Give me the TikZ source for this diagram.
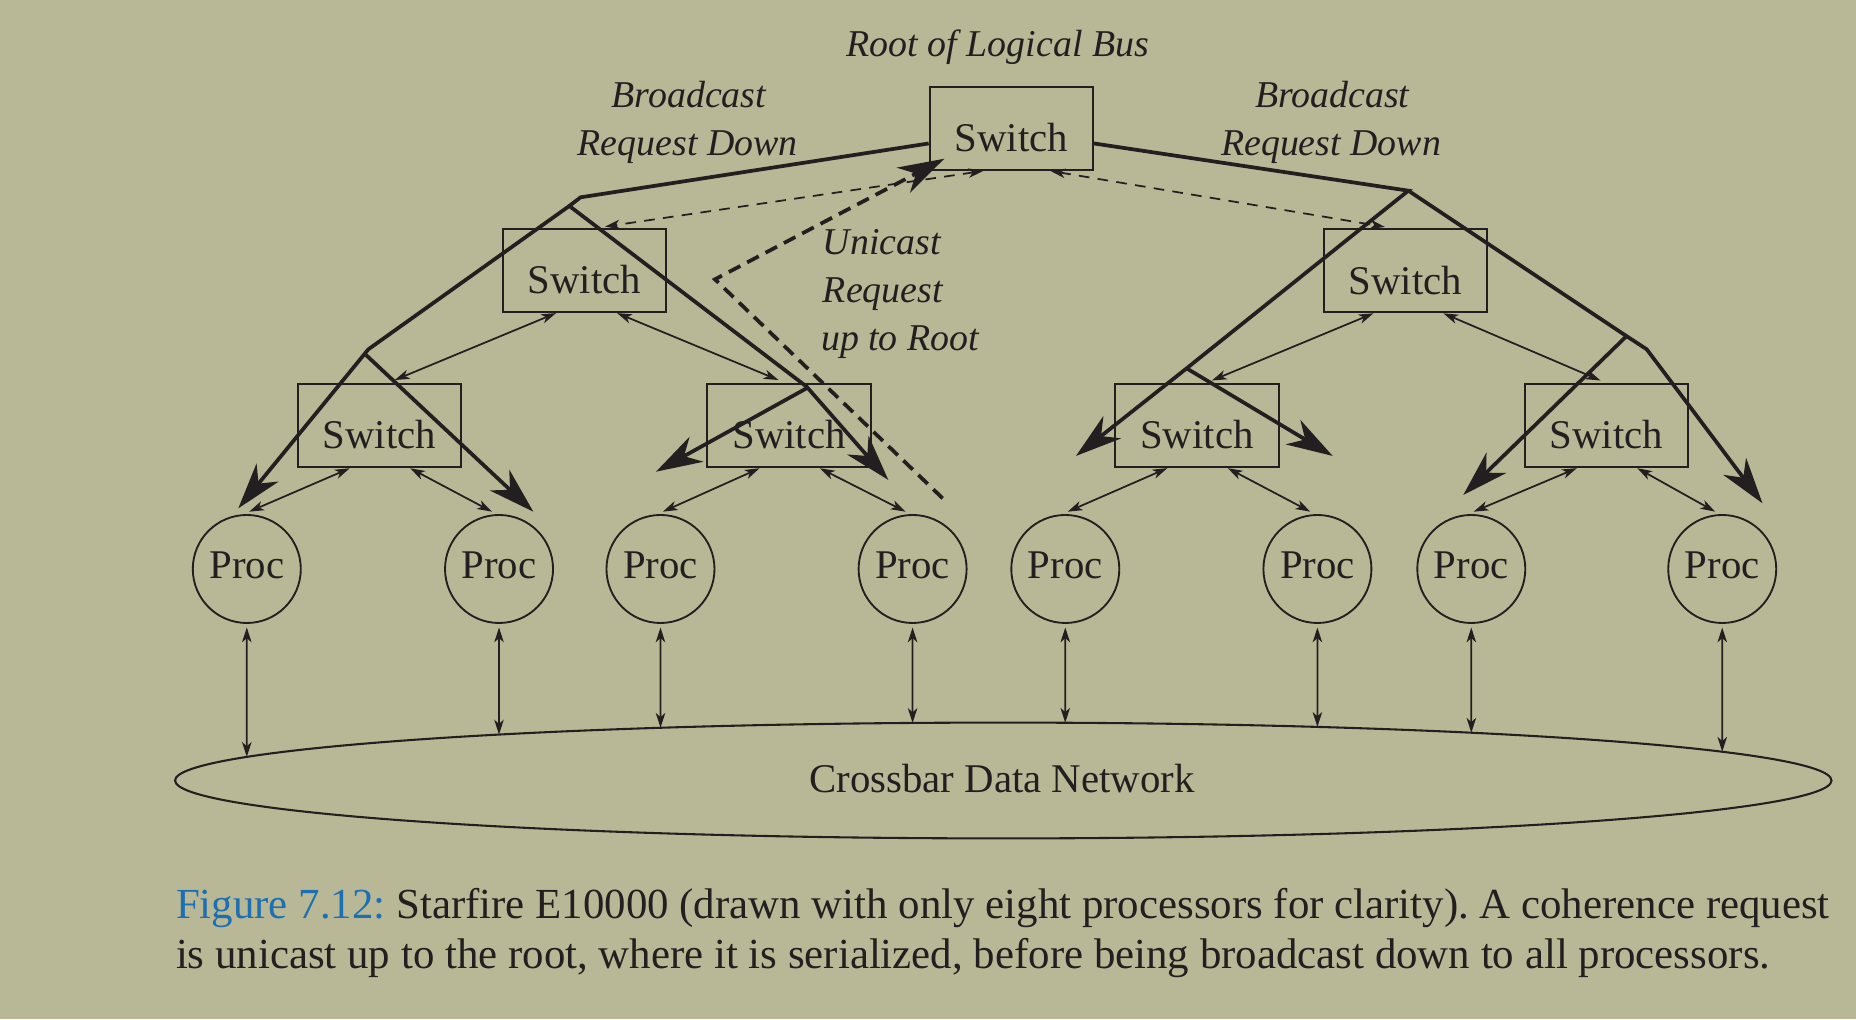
\documentclass[tikz,border=0pt]{standalone}
\usepackage{fontspec}
\setmainfont{Liberation Serif}
\usepackage{xcolor}
\usepackage{tikz}
\usetikzlibrary{calc}
\usetikzlibrary{intersections}
\usetikzlibrary{arrows.meta}

\definecolor{paper}{RGB}{185,184,150}
\definecolor{ink}{RGB}{35,31,32}
\definecolor{figblue}{RGB}{28,112,178}

\begin{document}
\begin{tikzpicture}[x=0.01cm,y=-0.01cm,
	every node/.style={text=ink,font=\fontsize{9.8}{11.6}\selectfont},
	switchbox/.style={draw=ink,line width=0.45pt,minimum width=1.38cm,minimum height=0.704cm,inner sep=0pt,text height=0.394cm,text depth=0cm},
	procnode/.style={draw=ink,line width=0.45pt,circle,minimum size=0.912cm,inner sep=0pt,text height=0.158cm,text depth=0cm},
	link/.style={draw=ink,line width=0.42pt,>={Stealth[length=1.25mm,width=0.8mm,inset=0.35mm]},<->},
	uplink/.style={link,dash pattern=on 0.9mm off 0.7mm},
	bcast/.style={draw=ink,line width=0.9pt,>={Stealth[length=3.9mm,width=2.4mm,inset=1.2mm]},->},
	ucast/.style={bcast,dash pattern=on 1.1mm off 0.65mm},
	lbl/.style={font=\fontsize{9.1}{11}\selectfont\itshape,anchor=base,inner sep=0pt},
	caption/.style={font=\fontsize{10.3}{12}\selectfont\frenchspacing,anchor=base west,inner sep=0pt}]
	\useasboundingbox (0,0) rectangle (1568,861);
	\fill[paper] (0,0) rectangle (1568,861);

	\node[switchbox] (root) at (854.4,108.4) {Switch};
	\node[switchbox] (s11) at (493.8,228.5) {Switch};
	\node[switchbox] (s12) at (1187.4,228.7) {Switch};
	\node[switchbox] (s21) at (320.5,359.6) {Switch};
	\node[switchbox] (s22) at (666.7,359.6) {Switch};
	\node[switchbox] (s23) at (1011.2,359.5) {Switch};
	\node[switchbox] (s24) at (1357.2,359.5) {Switch};
	\foreach \x [count=\i] in {208.5,421.6,558,771,900,1113,1243,1455}
		\node[procnode] (p\i) at (\x,480.7) {Proc};

	\draw[ink,line width=0.5pt,name path=net] (847.6,659.4) ellipse [x radius=6.993cm,y radius=0.489cm];
	\node[anchor=base,inner sep=0pt] (netlbl) at (846.5,669.6) {Crossbar Data Network};
	\foreach \i in {1,...,8}{
		\path[name path=drop\i] (p\i.south) -- ++(0,200);
		\draw[link,shorten <=0.3mm,name intersections={of=net and drop\i,by=bus\i}] (p\i.south) -- (bus\i);
	}

	\foreach \s/\a/\b in {s21/p1/p2,s22/p3/p4,s23/p5/p6,s24/p7/p8}{
		\draw[link] ([xshift=-0.25cm]\s.south) -- ([xshift=0.02cm,yshift=0.02cm]\a.north);
		\draw[link] ([xshift=0.26cm]\s.south) -- ([xshift=-0.06cm,yshift=0.02cm]\b.north);
	}
	\draw[link] ([xshift=-0.24cm]s11.south) -- ([xshift=0.13cm,yshift=0.025cm]s21.north);
	\draw[link] ([xshift=0.275cm]s11.south) -- ([xshift=-0.09cm,yshift=0.025cm]s22.north);
	\draw[link] ([xshift=-0.27cm]s12.south) -- ([xshift=0.126cm,yshift=0.02cm]s23.north);
	\draw[link] ([xshift=0.32cm]s12.south) -- ([xshift=-0.05cm,yshift=0.02cm]s24.north);
	\draw[uplink] ([xshift=-0.237cm]root.south) -- ([xshift=0.173cm,yshift=0.01cm]s11.north);
	\draw[uplink] ([xshift=0.33cm]root.south) -- ([xshift=-0.174cm,yshift=0.01cm]s12.north);

	\coordinate (lk) at (490.5,166.7);
	\coordinate (lj) at (481,174);
	\coordinate (lk1) at (311.2,295.1);
	\coordinate (lj1) at (309.2,299.9);
	\coordinate (lk2) at (681.5,326.7);
	\coordinate (lj2) at (681.5,328);
	\coordinate (t1) at (201.3,429.5);
	\coordinate (t2) at (450.6,432.3);
	\coordinate (t3) at (554.2,398.5);
	\coordinate (t4) at (750.5,405.5);
	\draw[bcast] ([yshift=-0.128cm]root.west) -- (lk) -- (lj) -- (lk1) -- (t1);
	\draw[bcast] (lj1) -- (t2);
	\draw[bcast] (lj) -- (lk2) -- (t4);
	\draw[bcast] (lj2) -- (t3);

	\coordinate (rk) at (1189.8,161.1);
	\coordinate (rk1) at (1002.5,311.2);
	\coordinate (rk2) at (1373.6,283.6);
	\coordinate (rj2) at (1373.6,284.5);
	\coordinate (rb2) at (1391.2,295.1);
	\coordinate (t5) at (909,385.2);
	\coordinate (t6) at (1125.9,385.2);
	\coordinate (t7) at (1236.2,418.2);
	\coordinate (t8) at (1489,425.2);
	\draw[bcast] ([yshift=-0.128cm]root.east) -- (rk) -- (rk1) -- (t5);
	\draw[bcast] (rk1) -- (t6);
	\draw[bcast] (rk) -- (rk2) -- (rb2) -- (t8);
	\draw[bcast] (rj2) -- (t7);

	\coordinate (ustart) at (796.4,421);
	\coordinate (ubend) at (604,236);
	\draw[ucast] (ustart) -- (ubend) -- ([xshift=-0.566cm,yshift=0.103cm]root.south);

	\node[lbl] (rootlbl) at (843,47.5) {Root of Logical Bus};
	\node[lbl] (bcl1) at (582,90.5) {Broadcast};
	\node[lbl] (bcl2) at (581,131) {Request Down};
	\node[lbl] (bcr1) at (1125.5,90.5) {Broadcast};
	\node[lbl] (bcr2) at (1124.5,131) {Request Down};
	\node[lbl,anchor=base west] (uc1) at (694.5,215.4) {Unicast};
	\node[lbl,anchor=base west] (uc2) at (694.5,255.7) {Request};
	\node[lbl,anchor=base west] (uc3) at (693,296.3) {up to Root};

	\node[caption] (cap1) at (148,776) {\textcolor{figblue}{Figure 7.12:} Starfire E10000 (drawn with only eight processors for clarity). A coherence request};
	\node[caption] (cap2) at (148,818) {is unicast up to the root, where it is serialized, before being broadcast down to all processors.};
\end{tikzpicture}
\end{document}
